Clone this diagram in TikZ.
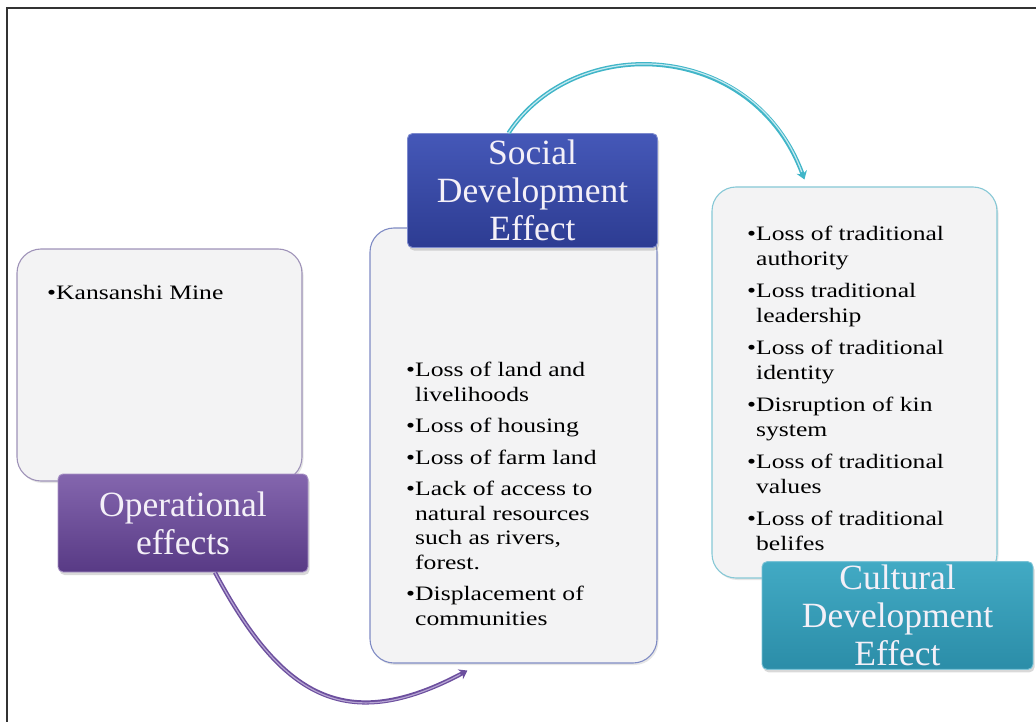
\documentclass[tikz,border=0pt]{standalone}
\usepackage{fontspec}
\setmainfont{Liberation Serif}
\newfontfamily\bodyfont{Liberation Serif}[FakeStretch=1.25]
\usetikzlibrary{arrows.meta,
                shadows,
                positioning}

\definecolor{boxfill}{HTML}{F3F3F4}
\definecolor{opline}{HTML}{9E92B8}
\definecolor{socline}{HTML}{7F8BC4}
\definecolor{culline}{HTML}{86C8D6}
\definecolor{optop}{HTML}{8466AE}
\definecolor{opbot}{HTML}{583A85}
\definecolor{soctop}{HTML}{4558B8}
\definecolor{socbot}{HTML}{2D3C92}
\definecolor{cultop}{HTML}{42AAC4}
\definecolor{culbot}{HTML}{2B8DA8}
\definecolor{titletext}{HTML}{F4F0F8}
\definecolor{oparrow}{HTML}{6C4F9E}
\definecolor{oparrowhi}{HTML}{B6A5D3}
\definecolor{cularrow}{HTML}{40B5C8}
\definecolor{cularrowhi}{HTML}{C4E9F0}

\tikzset{
  listbox/.style={rounded corners=24pt, fill=boxfill, line width=1.1pt,
                  drop shadow={shadow xshift=1.5pt, shadow yshift=-2pt, opacity=0.2}},
  titlebox/.style={rounded corners=5pt, line width=0.9pt, text=titletext, align=center,
                   font=\fontsize{35.5}{38}\selectfont,
                   drop shadow={shadow xshift=1.5pt, shadow yshift=-3pt, opacity=0.3}},
  bullets/.style={font=\bodyfont\fontsize{20.5}{24.5}\selectfont, align=left,
                  inner sep=0pt, anchor=north west},
  flow/.style 2 args={line width=1.2pt, draw=#2, shorten >=8pt,
                      preaction={draw=#1, line width=4.2pt, shorten >=0pt,
                                 -{Stealth[length=8pt, width=11pt]}}}
}

\begin{document}
\begin{tikzpicture}[x=1pt, y=-1pt]
\useasboundingbox (0,0) rectangle (1036,722);
\draw[line width=2pt, black!80] (7,722) -- (7,8) -- (1036,8);

% list boxes
\node[listbox, draw=opline, minimum width=285pt, minimum height=232pt] (kanbox) at (159.5,365) {};
\node[listbox, draw=socline, minimum width=287pt, minimum height=435pt] (socbox) at (513.5,445.5) {};
\node[listbox, draw=culline, minimum width=285pt, minimum height=391pt] (culbox) at (854.5,382.5) {};

\node[bullets] (kantext) at (47,285) {\textbullet Kansanshi Mine};

\node[bullets] (soctext) at (406,362) {%
  \textbullet Loss of land and\\
  \phantom{\textbullet}livelihoods\\[7pt]
  \textbullet Loss of housing\\[7pt]
  \textbullet Loss of farm land\\[7pt]
  \textbullet Lack of access to\\
  \phantom{\textbullet}natural resources\\
  \phantom{\textbullet}such as rivers,\\
  \phantom{\textbullet}forest.\\[7pt]
  \textbullet Displacement of\\
  \phantom{\textbullet}communities};

\node[bullets] (cultext) at (747,226) {%
  \textbullet Loss of traditional\\
  \phantom{\textbullet}authority\\[8pt]
  \textbullet Loss traditional\\
  \phantom{\textbullet}leadership\\[8pt]
  \textbullet Loss of traditional\\
  \phantom{\textbullet}identity\\[8pt]
  \textbullet Disruption of kin\\
  \phantom{\textbullet}system\\[8pt]
  \textbullet Loss of traditional\\
  \phantom{\textbullet}values\\[8pt]
  \textbullet Loss of traditional\\
  \phantom{\textbullet}belifes};

% title boxes
\node[titlebox, top color=optop, bottom color=opbot, draw=optop!70!white,
      minimum width=250pt, minimum height=98pt] (optitle) at (183,523) {Operational\\effects};
\node[titlebox, top color=soctop, bottom color=socbot, draw=soctop!70!white,
      minimum width=250pt, minimum height=114pt] (soctitle) at (532.5,190.5) {Social\\Development\\Effect};
\node[titlebox, top color=cultop, bottom color=culbot, draw=cultop!70!white,
      minimum width=271pt, minimum height=105pt] (cultitle) at (897.5,615.5) {Cultural\\Development\\Effect};

% arrows between the stages
\draw[flow={oparrow}{oparrowhi}] ([xshift=32pt]optitle.south)
  .. controls (281,696) and (345,736) .. ([xshift=98pt,yshift=-7pt]socbox.south west);
\draw[flow={cularrow}{cularrowhi}] ([xshift=-24pt]soctitle.north)
  .. controls (575,32) and (753,39) .. ([xshift=93pt,yshift=7pt]culbox.north west);
\end{tikzpicture}
\end{document}
